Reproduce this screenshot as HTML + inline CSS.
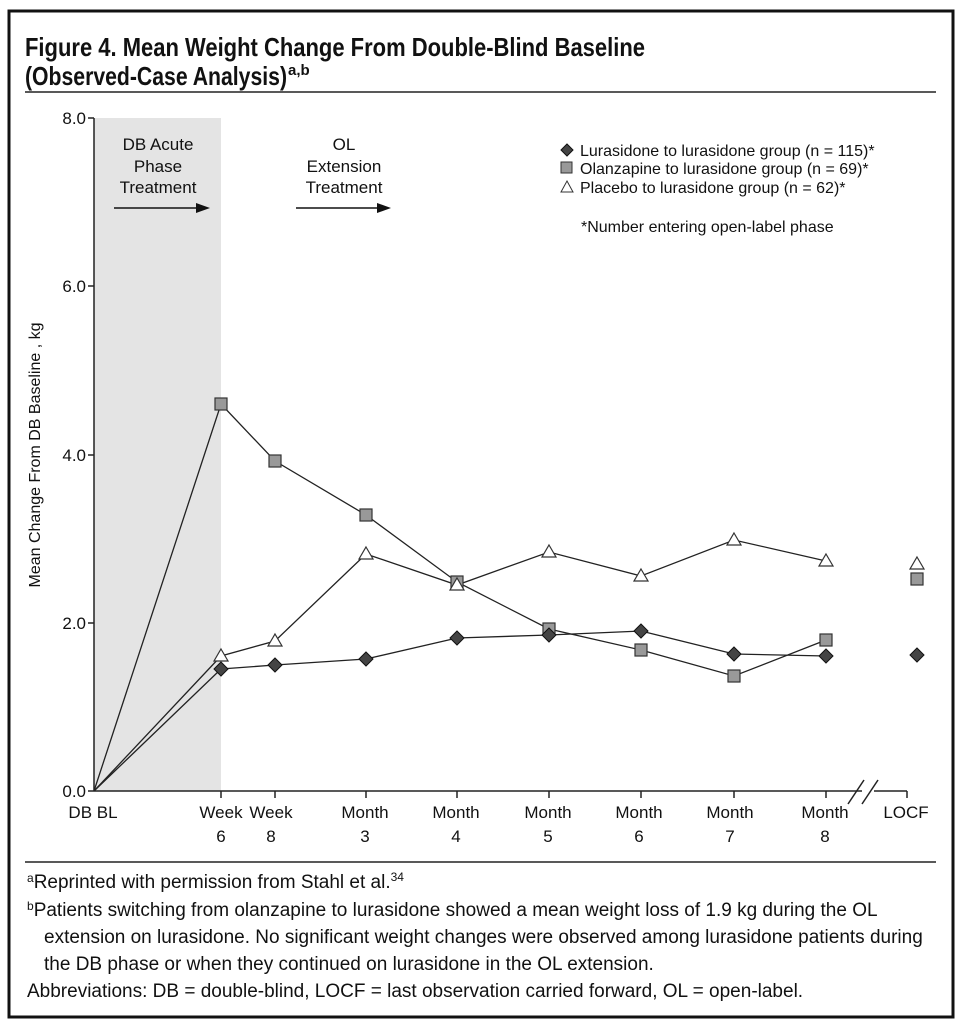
<!DOCTYPE html>
<html><head><meta charset="utf-8"><style>
body{margin:0;background:#fff;width:964px;height:1024px;overflow:hidden;font-family:"Liberation Sans Narrow","Liberation Sans",sans-serif;}
svg text{font-family:"Liberation Sans Narrow","Liberation Sans",sans-serif;fill:#111}
</style></head><body>
<svg width="964" height="1024" viewBox="0 0 964 1024" xmlns="http://www.w3.org/2000/svg">
<rect x="9" y="11" width="944" height="1006" fill="none" stroke="#111" stroke-width="3"/>
<text x="25" y="56" font-size="26" font-weight="bold" textLength="620" lengthAdjust="spacingAndGlyphs">Figure 4. Mean Weight Change From Double-Blind Baseline</text>
<text x="25" y="85" font-size="26" font-weight="bold" textLength="262" lengthAdjust="spacingAndGlyphs">(Observed-Case Analysis)</text>
<text x="288" y="75" font-size="15" font-weight="bold">a,b</text>
<line x1="25" y1="92" x2="936" y2="92" stroke="#222" stroke-width="1.5"/>
<rect x="94" y="118" width="127" height="673" fill="#e4e4e4"/>
<line x1="94" y1="118" x2="94" y2="791" stroke="#222" stroke-width="1.5"/>
<line x1="94" y1="791" x2="862" y2="791" stroke="#222" stroke-width="1.5"/>
<line x1="874" y1="791" x2="907" y2="791" stroke="#222" stroke-width="1.5"/>
<line x1="848" y1="804" x2="864" y2="780" stroke="#222" stroke-width="1.5"/>
<line x1="862" y1="804" x2="878" y2="780" stroke="#222" stroke-width="1.5"/>
<g stroke="#222" stroke-width="1.5">
<line x1="88" y1="118" x2="94" y2="118"/><line x1="88" y1="286" x2="94" y2="286"/><line x1="88" y1="455" x2="94" y2="455"/><line x1="88" y1="623" x2="94" y2="623"/><line x1="88" y1="791" x2="94" y2="791"/>
<line x1="221" y1="791" x2="221" y2="798"/><line x1="275" y1="791" x2="275" y2="798"/><line x1="366" y1="791" x2="366" y2="798"/><line x1="457" y1="791" x2="457" y2="798"/><line x1="549" y1="791" x2="549" y2="798"/><line x1="641" y1="791" x2="641" y2="798"/><line x1="734" y1="791" x2="734" y2="798"/><line x1="826" y1="791" x2="826" y2="798"/><line x1="907" y1="791" x2="907" y2="798"/>
</g>
<g font-size="17" text-anchor="end">
<text x="86" y="124">8.0</text><text x="86" y="292">6.0</text><text x="86" y="461">4.0</text><text x="86" y="629">2.0</text><text x="86" y="797">0.0</text>
</g>
<text transform="translate(40,455) rotate(-90)" font-size="16" text-anchor="middle">Mean Change From DB Baseline , kg</text>
<g font-size="17" text-anchor="middle">
<text x="93" y="818">DB BL</text>
<text x="221" y="818">Week</text><text x="221" y="842">6</text>
<text x="271" y="818">Week</text><text x="271" y="842">8</text>
<text x="365" y="818">Month</text><text x="365" y="842">3</text>
<text x="456" y="818">Month</text><text x="456" y="842">4</text>
<text x="548" y="818">Month</text><text x="548" y="842">5</text>
<text x="639" y="818">Month</text><text x="639" y="842">6</text>
<text x="730" y="818">Month</text><text x="730" y="842">7</text>
<text x="825" y="818">Month</text><text x="825" y="842">8</text>
<text x="906" y="818">LOCF</text>
<text x="158" y="150">DB Acute</text><text x="158" y="172">Phase</text><text x="158" y="193">Treatment</text>
<text x="344" y="150">OL</text><text x="344" y="172">Extension</text><text x="344" y="193">Treatment</text>
</g>
<line x1="114" y1="208" x2="200" y2="208" stroke="#111" stroke-width="1.5"/><polygon points="196,203 210,208 196,213" fill="#111"/>
<line x1="296" y1="208" x2="380" y2="208" stroke="#111" stroke-width="1.5"/><polygon points="377,203 391,208 377,213" fill="#111"/>
<g font-size="16">
<polygon points="567,144 573,150 567,156 561,150" fill="#444" stroke="#111"/>
<text x="580" y="156">Lurasidone to lurasidone group (n = 115)*</text>
<rect x="561" y="162" width="11" height="11" fill="#999" stroke="#333"/>
<text x="580" y="174">Olanzapine to lurasidone group (n = 69)*</text>
<polygon points="567,181 573,192 561,192" fill="#fff" stroke="#333"/>
<text x="580" y="193">Placebo to lurasidone group (n = 62)*</text>
<text x="581" y="232">*Number entering open-label phase</text>
</g>
<g fill="none" stroke="#222" stroke-width="1.3">
<polyline points="94,791 221,404 275,461 366,515 457,582 549,629 641,650 734,676 826,640"/>
<polyline points="94,791 221,656 275,641 366,554 457,585 549,552 641,576 734,540 826,561"/>
<polyline points="94,791 221,669 275,665 366,659 457,638 549,635 641,631 734,654 826,656"/>
</g>
<g fill="#999" stroke="#333" stroke-width="1.2">
<rect x="215" y="398" width="12" height="12"/><rect x="269" y="455" width="12" height="12"/><rect x="360" y="509" width="12" height="12"/><rect x="451" y="576" width="12" height="12"/><rect x="543" y="623" width="12" height="12"/><rect x="635" y="644" width="12" height="12"/><rect x="728" y="670" width="12" height="12"/><rect x="820" y="634" width="12" height="12"/><rect x="911" y="573" width="12" height="12"/>
</g>
<g fill="#fff" stroke="#333" stroke-width="1.2">
<polygon points="221,649 228,661 214,661"/><polygon points="275,634 282,646 268,646"/><polygon points="366,547 373,559 359,559"/><polygon points="457,578 464,590 450,590"/><polygon points="549,545 556,557 542,557"/><polygon points="641,569 648,581 634,581"/><polygon points="734,533 741,545 727,545"/><polygon points="826,554 833,566 819,566"/><polygon points="917,557 924,569 910,569"/>
</g>
<g fill="#444" stroke="#111" stroke-width="1">
<polygon points="221,662 228,669 221,676 214,669"/><polygon points="275,658 282,665 275,672 268,665"/><polygon points="366,652 373,659 366,666 359,659"/><polygon points="457,631 464,638 457,645 450,638"/><polygon points="549,628 556,635 549,642 542,635"/><polygon points="641,624 648,631 641,638 634,631"/><polygon points="734,647 741,654 734,661 727,654"/><polygon points="826,649 833,656 826,663 819,656"/><polygon points="917,648 924,655 917,662 910,655"/>
</g>
<line x1="25" y1="862" x2="936" y2="862" stroke="#222" stroke-width="1.5"/>
<g font-size="19">
<text x="27" y="888"><tspan font-size="12" dy="-6">a</tspan><tspan dy="6">Reprinted with permission from Stahl et al.</tspan><tspan font-size="12" dy="-7">34</tspan></text>
<text x="27" y="916"><tspan font-size="12" dy="-6">b</tspan><tspan dy="6">Patients switching from olanzapine to lurasidone showed a mean weight loss of 1.9 kg during the OL</tspan></text>
<text x="44" y="943">extension on lurasidone. No significant weight changes were observed among lurasidone patients during</text>
<text x="44" y="970">the DB phase or when they continued on lurasidone in the OL extension.</text>
<text x="27" y="997">Abbreviations: DB = double-blind, LOCF = last observation carried forward, OL = open-label.</text>
</g>
</svg>
</body></html>
